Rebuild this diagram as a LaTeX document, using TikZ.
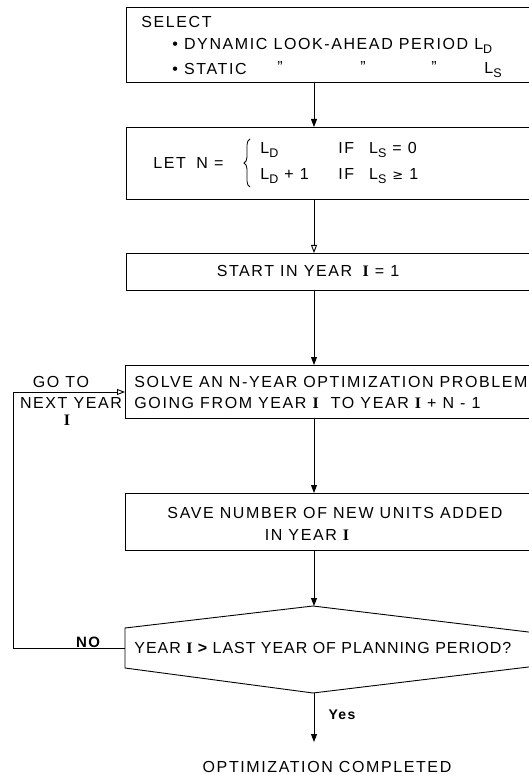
\documentclass[tikz,border=0pt]{standalone}
\usepackage{fontspec}
\setmainfont{Liberation Sans}[LetterSpace=10]
\newfontfamily\serifI{Liberation Serif}
\newfontfamily\dv{DejaVu Sans}
\newfontfamily\tighter{Liberation Sans}[LetterSpace=6]
\usetikzlibrary{arrows.meta,decorations.pathreplacing}
\newcommand{\RI}{{\serifI\bfseries I}}
\newcommand{\Lsub}[1]{L\raisebox{-0.4ex}{\fontsize{12.5}{12.5}\selectfont #1}}
\newcommand{\dq}{\symbol{"22}}
\begin{document}
\begin{tikzpicture}[x=1pt,y=-1pt,line width=0.9pt,
  box/.style={draw,line width=0.9pt,inner sep=0pt,minimum width=420pt,anchor=north west},
  lbl/.style={inner sep=0pt,font=\fontsize{16}{16}\selectfont},
  arr/.style={-{Triangle[width=6pt,length=8pt]}},
  oarr/.style={-{Triangle[open,width=6pt,length=8pt]}}]
\useasboundingbox (0,0) rectangle (529,775);
\clip (0,0) rectangle (529,775);
\coordinate (X) at (314,0);
% boxes
\node[box,minimum height=75pt] (b1) at (126,7) {};
\node[box,minimum height=72pt] (b2) at (126,127) {};
\node[box,minimum height=37pt] (b3) at (126,253) {};
\node[box,minimum height=53pt] (b4) at (125,365) {};
\node[box,minimum height=57pt] (b5) at (125,493) {};
% diamond
\coordinate (dtop) at (313,606);
\coordinate (dleft) at (125,648);
\coordinate (dbot) at (313,693);
\draw (dtop) -- (125,628) -- (125,668) -- (dbot) -- (545,665) -- (545,634) -- cycle;
% box 1 text
\node[lbl,anchor=west] (t1a) at (141,22) {SELECT};
\node[lbl,anchor=west] (t1b) at (172,46) {\textbullet\ DYNAMIC LOOK-AHEAD PERIOD \Lsub{D}};
\node[lbl,anchor=west] (t1c) at (172,69) {\textbullet\ STATIC};
\node[lbl] (q1) at (280,67) {\dq};
\node[lbl] (q2) at (363,67) {\dq};
\node[lbl] (q3) at (434,67) {\dq};
\node[lbl,anchor=west] (t1d) at (484,70) {\Lsub{S}};
% box 2 text
\node[lbl,anchor=west] (t2a) at (153,163) {LET\; N =};
\draw[line width=0.8pt,decorate,decoration={brace,amplitude=6pt}] (250,187) -- (250,139);
\node[lbl,anchor=west] (t2b) at (260,150) {\Lsub{D}};
\node[lbl,anchor=west] (t2c) at (338,150) {IF\;\; \Lsub{S} = 0};
\node[lbl,anchor=west] (t2d) at (260,176) {\Lsub{D} + 1};
\node[lbl,anchor=west] (t2e) at (338,176) {IF\;\; \Lsub{S} {\dv\fontsize{13}{13}\selectfont ≥} 1};
% box 3
\node[lbl] (t3) at (308,271) {START IN YEAR\; \RI\ = 1};
% box 4
\node[lbl,anchor=west] (t4a) at (134,382) {SOLVE AN N-YEAR OPTIMIZATION PROBLEM};
\node[lbl,anchor=west] (t4b) at (134,403) {GOING FROM YEAR \RI\ \ TO YEAR \RI\ + N - 1};
% box 5
\node[lbl] (t5a) at (335,513) {SAVE NUMBER OF NEW UNITS ADDED};
\node[lbl] (t5b) at (307,535) {IN YEAR \RI};
% diamond text
\node[lbl,anchor=west,font=\fontsize{16}{16}\tighter] (t6) at (134,648) {YEAR \RI\ {\bfseries >} LAST YEAR OF PLANNING PERIOD?};
% feedback labels
\node[lbl] (go) at (61,382) {GO TO};
\node[lbl] (nx) at (71,403) {NEXT YEAR};
\node[lbl] (ni) at (67,420) {\RI};
\node[lbl,font=\fontsize{15}{15}\selectfont\bfseries] (no) at (88,642) {NO};
\node[lbl,font=\fontsize{14}{14}\selectfont\bfseries] (yes) at (342,715) {Yes};
\node[lbl] (end) at (327,767) {OPTIMIZATION COMPLETED};
\coordinate (endtip) at (314,742);
% connectors
\draw[arr] (b1.south -| X) -- (b2.north -| X);
\draw[oarr] (b2.south -| X) -- (b3.north -| X);
\draw[arr] (b3.south -| X) -- (b4.north -| X);
\draw[arr] (b4.south -| X) -- (b5.north -| X);
\draw[arr] (b5.south -| X) -- (dtop -| X);
\draw[arr] (dbot -| X) -- (endtip);
\coordinate (fb) at (13,392);
\draw[oarr] (dleft) -| (fb) -- (b4.west |- fb);
\end{tikzpicture}
\end{document}
